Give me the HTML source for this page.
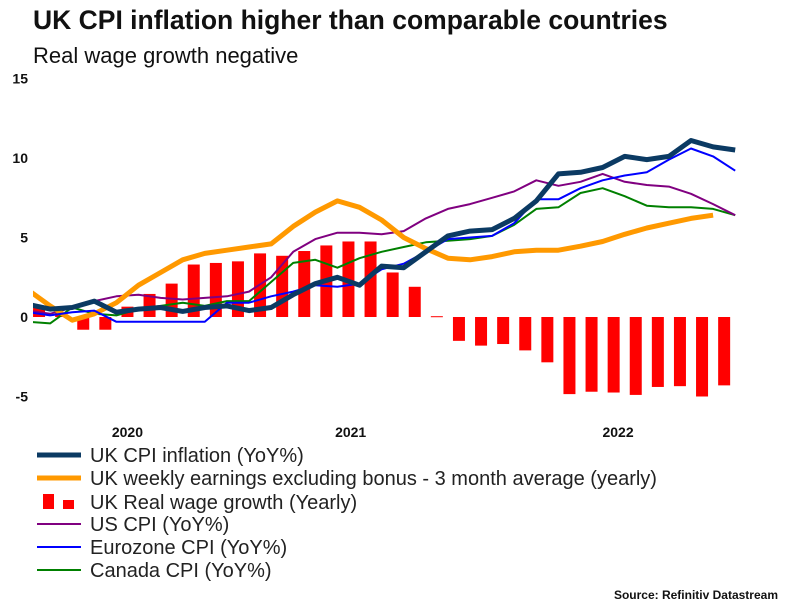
<!DOCTYPE html>
<html><head><meta charset="utf-8"><style>
body{margin:0;background:#fff;width:806px;height:605px;overflow:hidden;font-family:"Liberation Sans",Arial,sans-serif}
</style></head><body>
<svg id="chart" width="806" height="605" xmlns="http://www.w3.org/2000/svg" font-family="Liberation Sans, Arial, sans-serif">
<text x="33" y="29" font-size="26.5" font-weight="bold" fill="#111">UK CPI inflation higher than comparable countries</text>
<text x="33" y="63" font-size="22" fill="#111">Real wage growth negative</text>
<g id="yaxis"></g>
<g id="xaxis"></g>
<defs><clipPath id="plotclip"><rect x="33" y="60" width="760" height="360"/></clipPath></defs>
<g id="bars"></g>
<g id="lines" clip-path="url(#plotclip)"></g>
<g font-size="20" fill="#222">
<g><line x1="37" y1="455" x2="81" y2="455" stroke="#0b3a63" stroke-width="5"/><text x="90" y="462">UK CPI inflation (YoY%)</text></g>
<g><line x1="37" y1="478" x2="81" y2="478" stroke="#ff9900" stroke-width="5"/><text x="90" y="485">UK weekly earnings excluding bonus - 3 month average (yearly)</text></g>
<g><rect x="43" y="494" width="11" height="15" fill="#f00"/><rect x="63" y="500" width="11" height="9" fill="#f00"/><text x="90" y="509">UK Real wage growth (Yearly)</text></g>
<g><line x1="37" y1="524" x2="81" y2="524" stroke="#800080" stroke-width="2"/><text x="90" y="531">US CPI (YoY%)</text></g>
<g><line x1="37" y1="547" x2="81" y2="547" stroke="#0000ff" stroke-width="2"/><text x="90" y="554">Eurozone CPI (YoY%)</text></g>
<g><line x1="37" y1="570" x2="81" y2="570" stroke="#008000" stroke-width="2"/><text x="90" y="577">Canada CPI (YoY%)</text></g>
</g>
<text x="778" y="599" font-size="12" font-weight="bold" text-anchor="end" fill="#111">Source: Refinitiv Datastream</text>
</svg>
<script>
const yTicks=[15,10,5,0,-5];
const yearLabels=["2020","2021","2022"];
const yearPos=[4.5,14.6,26.7];
const realWage=[0.6,0.3,-0.8,-0.8,0.65,1.45,2.1,3.3,3.4,3.5,4.0,3.85,4.15,4.5,4.75,4.75,2.8,1.9,0.05,-1.5,-1.8,-1.7,-2.1,-2.85,-4.85,-4.7,-4.75,-4.9,-4.4,-4.35,-5.0,-4.3];
const ukCpi=[0.8,0.5,0.6,1.0,0.3,0.5,0.6,0.35,0.6,0.7,0.4,0.6,1.4,2.1,2.5,2.0,3.2,3.1,4.1,5.1,5.4,5.5,6.2,7.3,9.0,9.1,9.4,10.1,9.9,10.1,11.1,10.7,10.5];
const ukEarnings=[1.7,0.7,-0.2,0.2,0.9,2.0,2.8,3.6,4.0,4.2,4.4,4.6,5.7,6.6,7.3,6.9,6.1,5.0,4.3,3.7,3.6,3.8,4.1,4.2,4.2,4.45,4.75,5.2,5.6,5.9,6.2,6.4];
const usCpi=[0.4,0.2,0.6,1.0,1.3,1.4,1.2,1.1,1.2,1.3,1.6,2.5,4.1,4.9,5.3,5.3,5.2,5.4,6.2,6.8,7.1,7.5,7.9,8.6,8.25,8.5,9.0,8.5,8.3,8.2,7.75,7.1,6.4];
const euCpi=[0.3,0.1,0.3,0.4,-0.3,-0.3,-0.3,-0.3,-0.3,0.9,0.9,1.3,1.6,2.0,1.9,2.1,3.0,3.35,4.1,4.9,5.0,5.1,5.9,7.4,7.4,8.1,8.6,8.9,9.1,9.9,10.6,10.1,9.2];
const caCpi=[-0.3,-0.4,0.6,0.2,0.1,0.5,0.7,0.9,0.7,1.0,1.0,2.2,3.4,3.6,3.1,3.7,4.1,4.4,4.7,4.8,4.9,5.1,5.8,6.8,6.9,7.8,8.1,7.6,7.0,6.9,6.9,6.8,6.4];
const NS="http://www.w3.org/2000/svg";
function xs(i){return 28+22.1*i;}
function ys(v){return 317-15.9*v;}
function mk(tag,attrs,parent){const e=document.createElementNS(NS,tag);for(const k in attrs)e.setAttribute(k,attrs[k]);parent.appendChild(e);return e;}
const ya=document.getElementById('yaxis');
yTicks.forEach(t=>{const e=mk('text',{x:28,y:ys(t)+5,'font-size':14,'font-weight':'bold','text-anchor':'end',fill:'#111'},ya);e.textContent=t;

});
const xa=document.getElementById('xaxis');
yearLabels.forEach((l,i)=>{const e=mk('text',{x:xs(yearPos[i]),y:437,'font-size':14,'font-weight':'bold','text-anchor':'middle',fill:'#111'},xa);e.textContent=l;

});
const bg=document.getElementById('bars');
realWage.forEach((v,i)=>{const cx=xs(i+0.5);const y0=ys(0),y1=ys(v);const r=mk('rect',{x:cx-6,y:Math.min(y0,y1),width:12,height:Math.max(1,Math.abs(y1-y0)),fill:'#ff0000'},bg);

});
const lg=document.getElementById('lines');
function line(data,color,w,name){const p=data.map((v,i)=>xs(i).toFixed(1)+','+ys(v).toFixed(1)).join(' ');
const e=mk('polyline',{points:p,fill:'none',stroke:color,'stroke-width':w,'stroke-linejoin':'round'},lg);

}
line(caCpi,'#008000',2,'canada-cpi-line');
line(usCpi,'#800080',2,'us-cpi-line');
line(ukEarnings,'#ff9900',5,'uk-earnings-line');
line(euCpi,'#0000ff',2,'eurozone-cpi-line');
line(ukCpi,'#0b3a63',5,'uk-cpi-line');
</script>
</body></html>
